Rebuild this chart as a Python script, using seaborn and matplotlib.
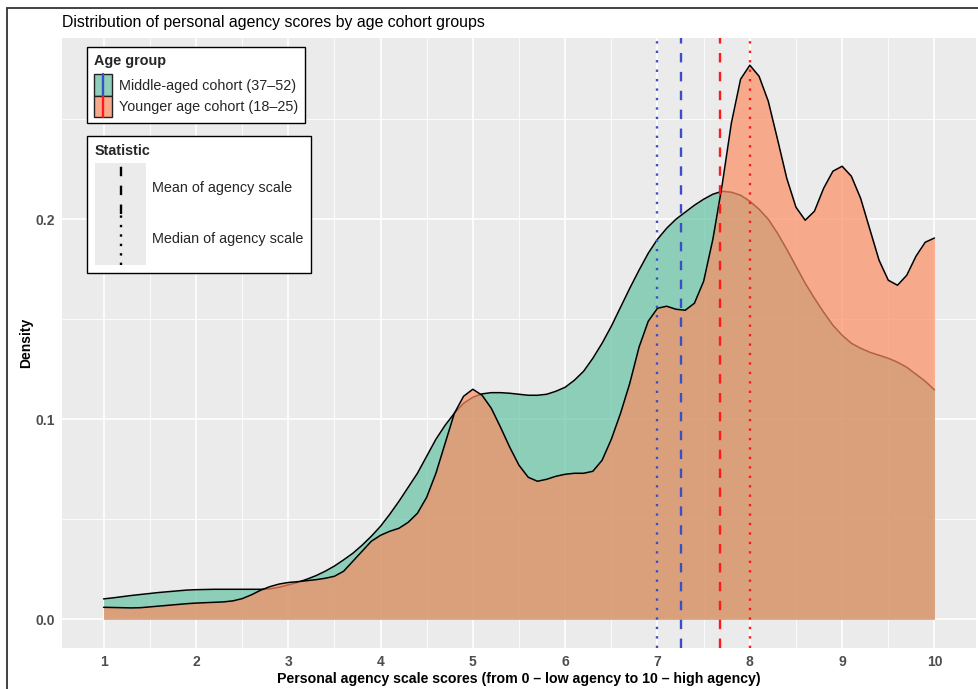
import numpy as np
import pandas as pd
import matplotlib
matplotlib.use("Agg")
import matplotlib.pyplot as plt
from matplotlib.patches import Rectangle, Patch
from matplotlib.lines import Line2D
from matplotlib.legend_handler import HandlerBase
from matplotlib.ticker import MultipleLocator
from matplotlib.colors import to_rgba
import seaborn as sns

# ---------------- data ----------------
score_grid = np.linspace(1.0, 10.0, 91)

density_middle = [
    .0102, .0107, .0113, .0119, .0124, .0129, .0134, .0138, .0142, .0146,
    .0148, .0149, .0150, .0150, .0150, .0150, .0150, .0150, .0152, .0160,
    .0172, .0184, .0200, .0218, .0240, .0266, .0297, .0330, .0370, .0415,
    .0465, .0525, .0590, .0660, .0730, .0815, .0900, .0970, .1030, .1080,
    .1110, .1127, .1133, .1133, .1130, .1125, .1120, .1120, .1125, .1140,
    .1160, .1195, .1240, .1305, .1380, .1465, .1560, .1655, .1745, .1830,
    .1900, .1955, .2000, .2035, .2070, .2100, .2125, .2140, .2135, .2120,
    .2090, .2050, .2000, .1930, .1850, .1765, .1680, .1605, .1535, .1470,
    .1420, .1380, .1355, .1335, .1320, .1305, .1285, .1260, .1225, .1190,
    .1147,
]

density_younger = [
    .0060, .0059, .0058, .0057, .0058, .0062, .0066, .0070, .0074, .0078,
    .0081, .0083, .0085, .0087, .0092, .0103, .0122, .0145, .0163, .0176,
    .0184, .0188, .0193, .0198, .0205, .0215, .0240, .0290, .0340, .0390,
    .0420, .0440, .0455, .0485, .0530, .0610, .0730, .0880, .1030, .1115,
    .1150, .1120, .1055, .0960, .0860, .0770, .0710, .0690, .0700, .0715,
    .0725, .0730, .0730, .0740, .0795, .0900, .1030, .1180, .1360, .1490,
    .1555, .1565, .1550, .1545, .1580, .1690, .1900, .2170, .2480, .2700,
    .2770, .2715, .2590, .2400, .2205, .2060, .1995, .2040, .2155, .2240,
    .2265, .2215, .2105, .1950, .1795, .1695, .1670, .1720, .1815, .1885,
    .1906,
]

groups = ["Middle-aged cohort (37\u201352)", "Younger age cohort (18\u201325)"]
group_fill = ["#66C2A5", "#FC8D62"]
group_line = ["#3A4FC4", "#FF1A1A"]
mean_scores = [7.25, 7.68]
median_scores = [7.0, 8.0]
stat_labels = ["Mean of agency scale", "Median of agency scale"]

x_ticks = list(range(1, 11))
y_ticks = [0.0, 0.1, 0.2]
y_tick_labels = ["0.0", "0.1", "0.2"]

df = pd.concat([
    pd.DataFrame({"score": score_grid, "density": density_middle, "group": groups[0]}),
    pd.DataFrame({"score": score_grid, "density": density_younger, "group": groups[1]}),
], ignore_index=True)

# ---------------- style ----------------
sns.set_theme(style="darkgrid", rc={
    "axes.facecolor": "#EBEBEB",
    "grid.color": "white",
    "axes.edgecolor": "#EBEBEB",
})
plt.rcParams["font.family"] = ["Liberation Sans", "DejaVu Sans"]

W, H = 979, 689
fig = plt.figure(figsize=(W / 100, H / 100), dpi=100)
fig.patch.set_facecolor("white")
ax = fig.add_axes([62 / W, 1 - 648 / H, (976 - 62) / W, (648 - 38) / H])

ALPHA = 0.7
for g, fc in zip(groups, group_fill):
    sub = df[df["group"] == g]
    ax.fill_between(sub["score"], 0, sub["density"], color=fc, alpha=ALPHA,
                    linewidth=0, zorder=2)
    sns.lineplot(data=sub, x="score", y="density", color="black", lw=1.1,
                 ax=ax, zorder=2, legend=False)

LW = 1.7
for m, md, c in zip(mean_scores, median_scores, group_line):
    ax.axvline(m, color=c, lw=LW, dashes=(4, 4), zorder=3)
    ax.axvline(md, color=c, lw=LW, dashes=(1, 3), zorder=3)

ax.set_xlim(0.55, 10.45)
ax.set_ylim(-0.01435, 0.2906)
ax.set_xticks(x_ticks)
ax.set_xticklabels([str(t) for t in x_ticks])
ax.set_yticks(y_ticks)
ax.set_yticklabels(y_tick_labels)
ax.xaxis.set_minor_locator(MultipleLocator(0.5))
ax.yaxis.set_minor_locator(MultipleLocator(0.05))
ax.grid(which="major", color="white", lw=1.2)
ax.grid(which="minor", color="white", lw=0.6)
ax.set_axisbelow(True)
for s in ax.spines.values():
    s.set_visible(False)
ax.tick_params(axis="both", which="major", length=3, width=0.8, color="#333333",
               labelsize=10, labelcolor="#4D4D4D", pad=2)
ax.tick_params(which="minor", length=0)
for lab in ax.get_xticklabels() + ax.get_yticklabels():
    lab.set_fontweight("bold")

ax.set_xlabel("Personal agency scale scores (from 0 \u2013 low agency to 10 \u2013 high agency)",
              fontsize=10.2, fontweight="bold", color="black", labelpad=2)
ax.set_ylabel("Density", fontsize=10, fontweight="bold", color="black", labelpad=1.5)
ax.set_title("Distribution of personal agency scores by age cohort groups",
             loc="left", fontsize=11.4, color="black", pad=8)


# ---------------- legends ----------------
class KeyHandler(HandlerBase):
    def __init__(self, face, edge, lcolor, dashes):
        super().__init__()
        self.face, self.edge, self.lcolor, self.dashes = face, edge, lcolor, dashes

    def create_artists(self, legend, orig_handle, xdescent, ydescent, width,
                       height, fontsize, trans):
        x0, y0 = -xdescent, -ydescent
        rect = Rectangle((x0, y0), width, height, facecolor=self.face,
                         edgecolor=self.edge, lw=1.0 if self.edge != "none" else 0,
                         transform=trans)
        ln = Line2D([x0 + width / 2] * 2, [y0, y0 + height], color=self.lcolor,
                    lw=LW, transform=trans)
        if self.dashes is not None:
            ln.set_dashes(self.dashes)
        return [rect, ln]


def blend(c, a, bg="#EBEBEB"):
    c1, c2 = np.array(to_rgba(c)[:3]), np.array(to_rgba(bg)[:3])
    return tuple(a * c1 + (1 - a) * c2)

LFS = 10.4
age_handles = [Patch(label=g) for g in groups]
age_map = {h: KeyHandler(blend(fc, ALPHA), "#222222", lc, None)
           for h, fc, lc in zip(age_handles, group_fill, group_line)}
leg1 = ax.legend(handles=age_handles, handler_map=age_map, title="Age group",
                 loc="upper left", bbox_to_anchor=(87 / W, 1 - 47 / H),
                 bbox_transform=fig.transFigure, fontsize=LFS,
                 title_fontproperties={"weight": "bold", "size": LFS},
                 alignment="left", frameon=True, fancybox=False, framealpha=1,
                 edgecolor="black", facecolor="white", handlelength=1.25,
                 handleheight=1.87, labelspacing=0.0, handletextpad=0.5,
                 borderpad=0.45, borderaxespad=0)
leg1.get_frame().set_linewidth(1.0)
leg1._legend_box.sep = 5
ax.add_artist(leg1)

stat_handles = [Patch(label=s) for s in stat_labels]
stat_map = {stat_handles[0]: KeyHandler("#EBEBEB", "none", "black", (4, 4)),
            stat_handles[1]: KeyHandler("#EBEBEB", "none", "black", (1, 3))}
leg2 = ax.legend(handles=stat_handles, handler_map=stat_map, title="Statistic",
                 loc="upper left", bbox_to_anchor=(87 / W, 1 - 136 / H),
                 bbox_transform=fig.transFigure, fontsize=LFS,
                 title_fontproperties={"weight": "bold", "size": LFS},
                 alignment="left", frameon=True, fancybox=False, framealpha=1,
                 edgecolor="black", facecolor="white", handlelength=3.54,
                 handleheight=5.07, labelspacing=0.0, handletextpad=0.4,
                 borderpad=0.55, borderaxespad=0)
leg2.get_frame().set_linewidth(1.0)
leg2._legend_box.sep = 3.5

# outer frame of the screenshot (left and top edges visible)
fig.add_artist(Rectangle((7 / W, -1), 2, 1 + (1 - 8 / H), transform=fig.transFigure,
                         fill=False, edgecolor="#333333", lw=1.3))

fig.savefig("out.png", dpi=100)
